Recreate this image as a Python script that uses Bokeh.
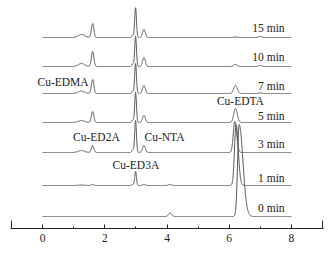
import numpy as np
from bokeh.plotting import figure
from bokeh.models import Range1d, FixedTicker, Label
from bokeh.embed import file_html
from bokeh.resources import INLINE

# ---- data ----
traces = ["15 min", "10 min", "7 min", "5 min", "3 min", "1 min", "0 min"]
baseline = [191, 162, 135, 106, 76, 43, 12]          # vertical offset of each trace

# peaks: retention time (min), height per trace, width (sigma, min)
rt_bump, sd_bump = 1.25, 0.10
h_bump = [3, 3, 2.5, 2, 2, 0.5, 0]
rt_ed2a, sd_ed2a = 1.61, 0.04
h_ed2a = [14, 15, 14, 11, 7, 1, 0]
rt_sh, sd_sh = 2.90, 0.03
h_sh = [2.5, 2.5, 2.5, 2.5, 2.5, 1, 0]
rt_ed3a, sd_ed3a = 2.99, 0.028
h_ed3a = [30, 30, 30, 30, 32, 14, 0]
rt_nta, sd_nta = 3.26, 0.045
h_nta = [8, 9, 8, 7, 7, 1, 0]
rt_p4, sd_p4 = 4.10, 0.05
h_p4 = [0, 0, 0, 0, 0, 1, 3.5]
rt_edta = [6.20, 6.20, 6.20, 6.20, 6.18, 6.22, 6.32]
h_edta = [0.5, 2, 8, 14, 31, 61, 92]
sdl_edta = [0.06, 0.06, 0.055, 0.055, 0.05, 0.05, 0.05]
sdr_edta = [0.06, 0.06, 0.06, 0.06, 0.06, 0.07, 0.12]
rt_p7, sd_p7 = 7.0, 0.06
h_p7 = [1, 1, 0.5, 0, 0, 0, 0]

trace_label_x = 7.78
trace_label_y = [201, 172, 143, 113, 85, 51, 21]

ann_text = ["Cu-EDMA", "Cu-EDTA", "Cu-ED2A", "Cu-NTA", "Cu-ED3A"]
ann_x = [0.66, 6.36, 1.73, 3.92, 3.0]
ann_y = [147, 128, 92, 92, 64]

major_ticks = [0, 2, 4, 6, 8]
minor_ticks = [1, 3, 5, 7]
end_ticks = [-1, 9]

FONT = "Liberation Serif"


def gauss(x, mu, h, sd):
    return h * np.exp(-0.5 * ((x - mu) / sd) ** 2)


def agauss(x, mu, h, sl, sr):
    sd = np.where(x < mu, sl, sr)
    return h * np.exp(-0.5 * ((x - mu) / sd) ** 2)


p = figure(width=335, height=263, output_backend="svg", toolbar_location=None,
           x_range=Range1d(-1.03, 9.03), y_range=Range1d(0, 221),
           y_axis_type=None, min_border_left=10, min_border_right=12,
           min_border_top=7, min_border_bottom=35)
p.outline_line_color = None
p.xgrid.visible = False
p.background_fill_color = "white"

t = np.linspace(0, 8, 2001)
for i, name in enumerate(traces):
    s = (gauss(t, rt_bump, h_bump[i], sd_bump) + gauss(t, rt_ed2a, h_ed2a[i], sd_ed2a)
         + gauss(t, rt_sh, h_sh[i], sd_sh) + gauss(t, rt_ed3a, h_ed3a[i], sd_ed3a)
         + gauss(t, rt_nta, h_nta[i], sd_nta) + gauss(t, rt_p4, h_p4[i], sd_p4)
         + agauss(t, rt_edta[i], h_edta[i], sdl_edta[i], sdr_edta[i])
         + gauss(t, rt_p7, h_p7[i], sd_p7))
    p.line(t, s + baseline[i], line_color="#555555", line_width=1)
    p.add_layout(Label(x=trace_label_x, y=trace_label_y[i], text=name,
                       text_align="right", text_baseline="middle",
                       text_font=FONT, text_font_size="11.5px", text_color="#222222"))

for tx, xx, yy in zip(ann_text, ann_x, ann_y):
    p.add_layout(Label(x=xx, y=yy, text=tx, text_align="center", text_baseline="middle",
                       text_font=FONT, text_font_size="11.5px", text_color="#222222"))

# end ticks of the axis
p.segment(x0=end_ticks, y0=[0, 0], x1=end_ticks, y1=[8, 8], line_color="#222222", line_width=1)

ax = p.xaxis[0]
ax.ticker = FixedTicker(ticks=major_ticks, minor_ticks=minor_ticks)
ax.axis_line_color = "#222222"
ax.major_tick_line_color = "#222222"
ax.minor_tick_line_color = "#222222"
ax.major_tick_in = 4
ax.major_tick_out = 0
ax.minor_tick_in = 2
ax.minor_tick_out = 0
ax.major_label_standoff = 5
ax.major_label_text_font = FONT
ax.major_label_text_font_size = "11.5px"
ax.major_label_text_color = "#222222"

# axis title "t/min" with italic t
p.add_layout(Label(x=3.70, y=-25, text="t", text_align="right", text_baseline="middle",
                   text_font=FONT, text_font_style="italic", text_font_size="11.5px",
                   text_color="#222222"))
p.add_layout(Label(x=3.70, y=-25, text="/min", text_align="left", text_baseline="middle",
                   text_font=FONT, text_font_size="11.5px", text_color="#222222"))

open("out.html", "w").write(file_html(p, INLINE))
